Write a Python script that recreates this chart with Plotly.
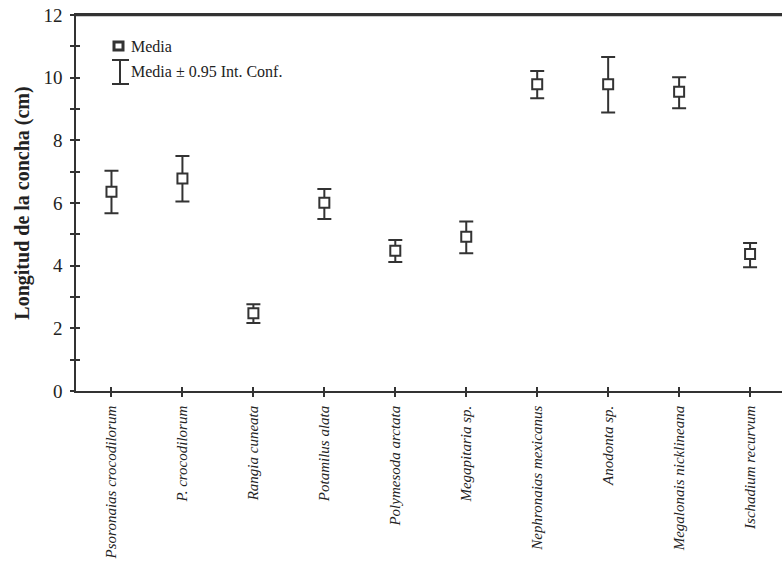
import plotly.graph_objects as go

species = ["Psoronaias crocodilorum", "P. crocodilorum", "Rangia cuneata",
           "Potamilus alata", "Polymesoda arctata", "Megapitaria sp.",
           "Nephronaias mexicanus", "Anodonta sp.", "Megalonais nicklineana",
           "Ischadium recurvum"]
media = [6.36, 6.78, 2.48, 6.01, 4.48, 4.92, 9.79, 9.79, 9.55, 4.37]
ic_upper = [7.03, 7.50, 2.77, 6.45, 4.82, 5.41, 10.21, 10.66, 10.01, 4.72]
ic_lower = [5.67, 6.05, 2.17, 5.49, 4.12, 4.40, 9.34, 8.89, 9.02, 3.95]
y_ticks = [0, 2, 4, 6, 8, 10, 12]

err_plus = [u - m for u, m in zip(ic_upper, media)]
err_minus = [m - l for m, l in zip(media, ic_lower)]

ink = "#333333"
serif = "Liberation Serif, Times New Roman, serif"

W, H = 782, 573
PL, PT, PW, PH = 76, 15, 706, 376   # plot area in window pixels

def px(xw):
    return (xw - PL) / PW

def py(yw):
    return (PT + PH - yw) / PH

fig = go.Figure()
fig.add_trace(go.Scatter(
    x=list(range(len(species))), y=media, mode="markers",
    marker=dict(symbol="square", size=10, color="white",
                line=dict(color=ink, width=2)),
    error_y=dict(type="data", symmetric=False, array=err_plus,
                 arrayminus=err_minus, color=ink, thickness=2, width=7),
    showlegend=False,
))
# dummy traces to activate overlay axes (inner tick marks, top frame)
fig.add_trace(go.Scatter(x=[None], y=[None], xaxis="x2", yaxis="y2",
                         showlegend=False, hoverinfo="skip"))
fig.add_trace(go.Scatter(x=[None], y=[None], xaxis="x3", yaxis="y",
                         showlegend=False, hoverinfo="skip"))

fig.update_layout(
    width=W, height=H,
    margin=dict(l=PL, r=0, t=PT, b=H - PT - PH),
    plot_bgcolor="white", paper_bgcolor="white",
    font=dict(family=serif, color="#222222"),
    xaxis=dict(range=[-0.5, 9.45], tickvals=list(range(len(species))),
               ticktext=species, tickangle=-90,
               tickfont=dict(family=serif, size=15, style="italic", color="#222222"),
               showline=True, linecolor=ink, linewidth=1.5, mirror=True,
               ticks="outside", ticklen=4, tickwidth=1.5, tickcolor=ink,
               showgrid=False, zeroline=False, ticklabelstandoff=3),
    yaxis=dict(range=[0, 12], tickvals=list(range(13)),
               ticktext=[str(v) if v in y_ticks else "" for v in range(13)],
               tickfont=dict(family=serif, size=19, color="#222222"),
               showline=True, linecolor=ink, linewidth=1.5,
               ticks="outside", ticklen=4, tickwidth=1.5, tickcolor=ink,
               showgrid=False, zeroline=False, ticklabelstandoff=4,
               ticklabeloverflow="allow",
               title=dict(text="<b>Longitud de la concha (cm)</b>",
                          font=dict(family=serif, size=20, color="#222222"),
                          standoff=8)),
    xaxis2=dict(overlaying="x", range=[-0.5, 9.45],
                tickvals=list(range(len(species))), showticklabels=False,
                ticks="inside", ticklen=4, tickwidth=1.5, tickcolor=ink,
                showline=False, showgrid=False, zeroline=False, side="bottom",
                anchor="y2"),
    xaxis3=dict(overlaying="x", range=[-0.5, 9.45], side="top", anchor="y",
                showticklabels=False, ticks="", showline=True,
                linecolor=ink, linewidth=1.5, showgrid=False,
                zeroline=False),
    yaxis2=dict(overlaying="y", range=[0, 12], tickvals=list(range(13)),
                showticklabels=False, ticks="inside", ticklen=4,
                tickwidth=1.5, tickcolor=ink, showline=False,
                showgrid=False, zeroline=False, side="left", anchor="x2"),
)

# top frame line
fig.add_shape(type="line", xref="paper", yref="paper", x0=0, x1=1,
              y0=0.999, y1=0.999, line=dict(color=ink, width=1.5))

# legend drawn manually
fig.add_shape(type="rect", xref="paper", yref="paper",
              x0=px(114), x1=px(123), y0=py(50), y1=py(42),
              line=dict(color=ink, width=3), fillcolor="white")
fig.add_shape(type="line", xref="paper", yref="paper",
              x0=px(120), x1=px(120), y0=py(84), y1=py(60),
              line=dict(color=ink, width=2))
for yy in (60, 84):
    fig.add_shape(type="line", xref="paper", yref="paper",
                  x0=px(112), x1=px(129), y0=py(yy), y1=py(yy),
                  line=dict(color=ink, width=2))
fig.add_annotation(xref="paper", yref="paper", x=px(129),
                   y=py(46), text="Media", showarrow=False,
                   xanchor="left", yanchor="middle",
                   font=dict(family=serif, size=16, color="#222222"))
fig.add_annotation(xref="paper", yref="paper", x=px(129),
                   y=py(72), text="Media ± 0.95 Int. Conf.",
                   showarrow=False, xanchor="left", yanchor="middle",
                   font=dict(family=serif, size=16, color="#222222"))

fig.write_html("out.html", config={"displayModeBar": False},
               post_script="document.body.style.margin='0';"
                           "document.body.style.overflow='hidden';")
